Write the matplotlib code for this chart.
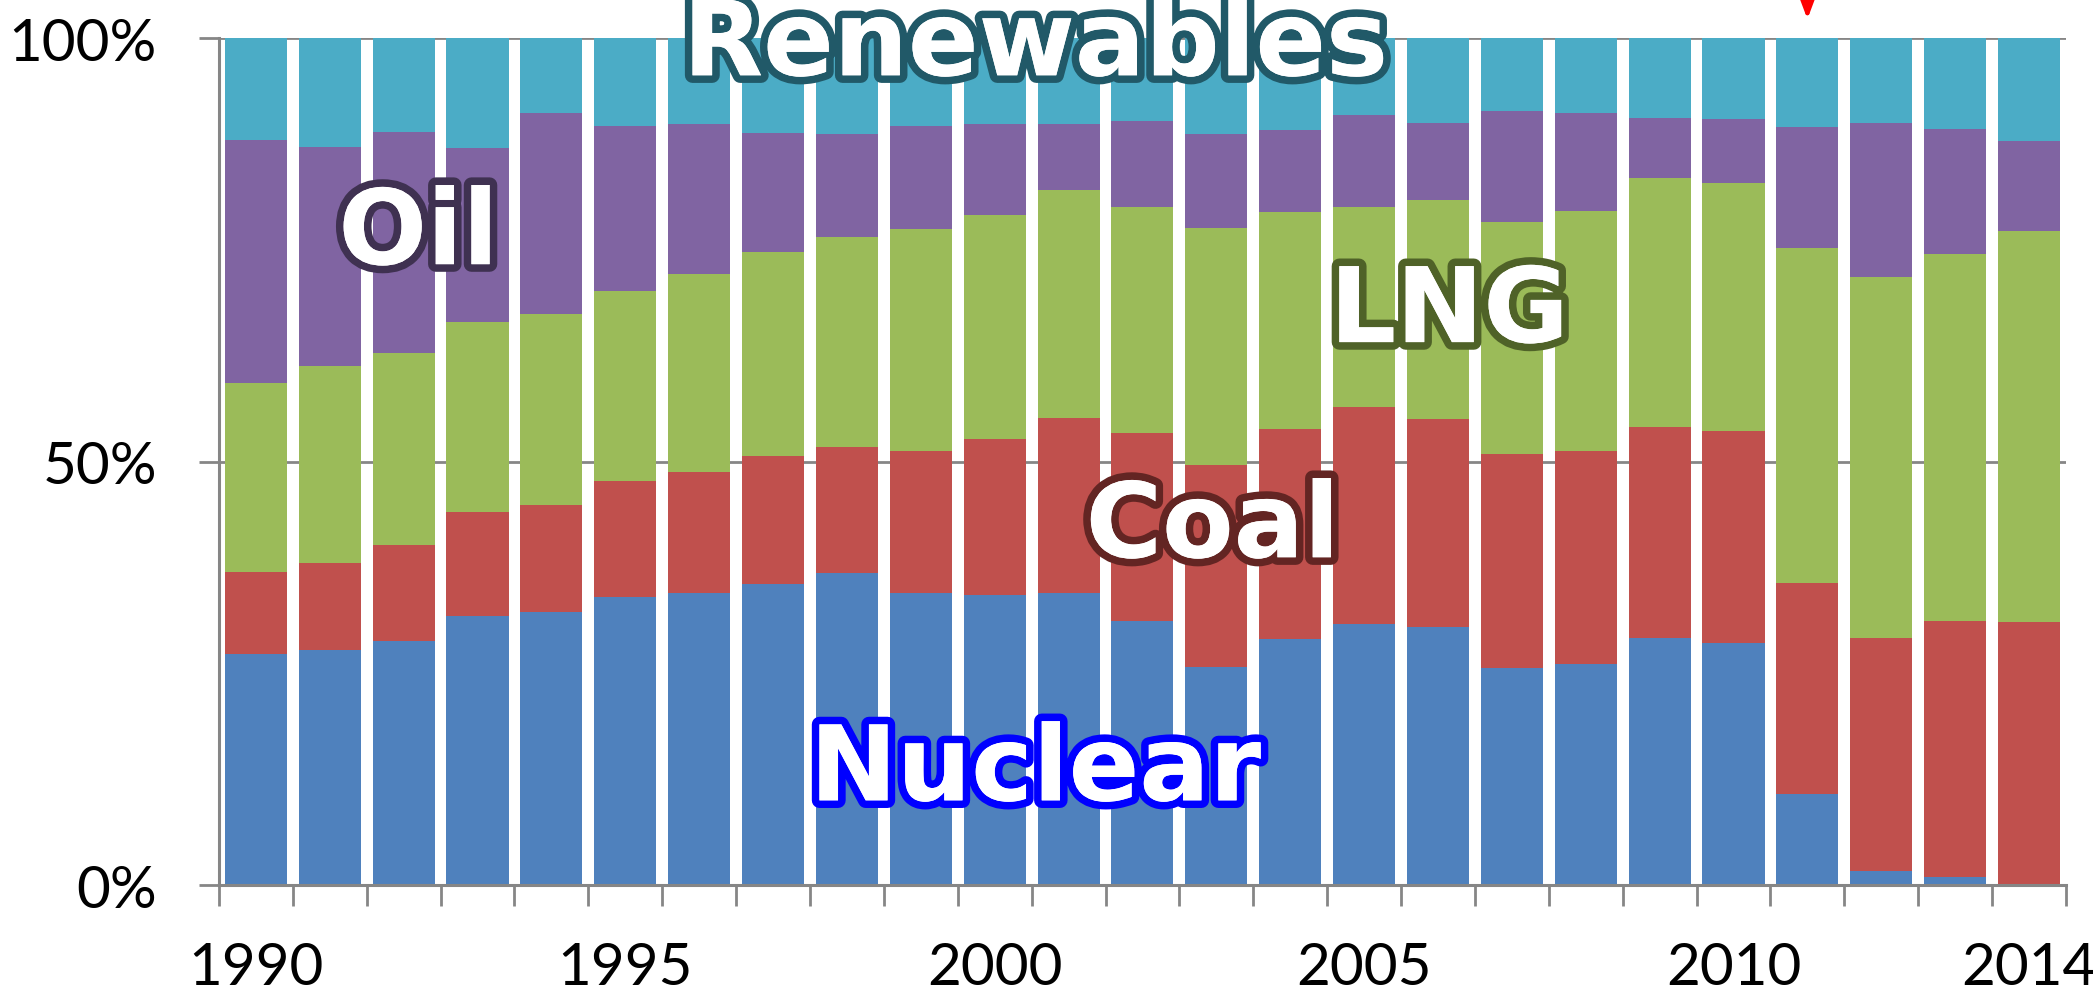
import numpy as np
import matplotlib.pyplot as plt
import matplotlib.patheffects as pe

# share of power generation by source (%)
years = list(range(1990, 2015))
nuclear = [27.3, 27.8, 28.8, 31.8, 32.2, 34.0, 34.5, 35.6, 36.8, 34.5,
           34.3, 34.5, 31.2, 25.7, 29.1, 30.8, 30.5, 25.6, 26.1, 29.2,
           28.6, 10.7, 1.7, 0.9, 0.0]
coal = [9.7, 10.2, 11.3, 12.2, 12.7, 13.7, 14.3, 15.1, 14.9, 16.7,
        18.4, 20.6, 22.2, 23.9, 24.7, 25.6, 24.5, 25.3, 25.1, 24.9,
        25.0, 25.0, 27.5, 30.3, 31.0]
lng = [22.3, 23.3, 22.7, 22.5, 22.5, 22.4, 23.3, 24.0, 24.8, 26.2,
       26.4, 26.9, 26.6, 28.0, 25.7, 23.6, 25.9, 27.4, 28.4, 29.4,
       29.3, 39.5, 42.6, 43.3, 46.2]
oil = [28.6, 25.8, 26.1, 20.5, 23.8, 19.5, 17.7, 14.1, 12.2, 12.2,
       10.7, 7.8, 10.2, 11.1, 9.6, 10.9, 9.1, 13.1, 11.6, 7.1,
       7.5, 14.3, 18.2, 14.8, 10.6]
renewables = [12.1, 12.9, 11.1, 13.0, 8.8, 10.4, 10.2, 11.2, 11.3, 10.4,
              10.2, 10.2, 9.8, 11.3, 10.9, 9.1, 10.0, 8.6, 8.8, 9.4,
              9.6, 10.5, 10.0, 10.7, 12.2]
labeled_years = [1990, 1995, 2000, 2005, 2010, 2014]

series = [
    ("Nuclear", nuclear, "#4F81BD", "#0000FF", 10.55, 10.0),
    ("Coal", coal, "#C0504D", "#632523", 12.95, 38.7),
    ("LNG", lng, "#9BBB59", "#4F6228", 16.15, 64.1),
    ("Oil", oil, "#8064A2", "#3F3151", 2.2, 73.3),
    ("Renewables", renewables, "#4BACC6", "#215968", 10.55, 95.6),
]

fig = plt.figure(figsize=(20.93, 9.95), dpi=100)
ax = fig.add_axes([0.1046, 0.1095, 0.8825, 0.8513])

x = np.arange(len(years))
bottom = np.zeros(len(years))
for name, vals, color, _, _, _ in series:
    ax.bar(x, vals, 0.84, bottom=bottom, color=color, zorder=2)
    bottom += np.array(vals)

ax.set_xlim(-0.5, len(years) - 0.5)
ax.set_ylim(0, 100)

gray = "#868686"
for s in ["top", "right"]:
    ax.spines[s].set_visible(False)
for s in ["left", "bottom"]:
    ax.spines[s].set_color(gray)
    ax.spines[s].set_linewidth(2.2)
    ax.spines[s].set_zorder(3)

ax.set_yticks([0, 50, 100], ["0%", "50%", "100%"])
ax.yaxis.grid(True, color=gray, linewidth=2)
ax.set_axisbelow(True)
ax.tick_params(axis="y", length=14.5, width=2, color=gray, pad=30,
               labelsize=42)

ax.set_xticks([years.index(y) for y in labeled_years],
              [str(y) for y in labeled_years])
ax.set_xticks(np.arange(-0.5, len(years), 1), minor=True)
ax.tick_params(axis="x", which="major", length=0, pad=40, labelsize=42)
ax.tick_params(axis="x", which="minor", length=15, width=2, color=gray)

for lab in ax.get_xticklabels() + ax.get_yticklabels():
    lab.set_family(["Lato", "DejaVu Sans"])

# outlined category names inside the chart
for name, _, _, edge, tx, ty in series:
    ax.text(tx, ty, name, ha="center", va="baseline", fontsize=75,
            fontweight="bold", family="DejaVu Sans", color="white", zorder=5,
            path_effects=[pe.withStroke(linewidth=11, foreground=edge),
                          pe.Normal()])

# red arrow marking 2011
ax.annotate("", xy=(years.index(2011), 101.9), xytext=(years.index(2011), 112),
            arrowprops=dict(arrowstyle="-|>,head_length=0.8,head_width=0.3",
                            color="red", lw=3, mutation_scale=30),
            annotation_clip=False)

fig.savefig("out.png", dpi=100)
